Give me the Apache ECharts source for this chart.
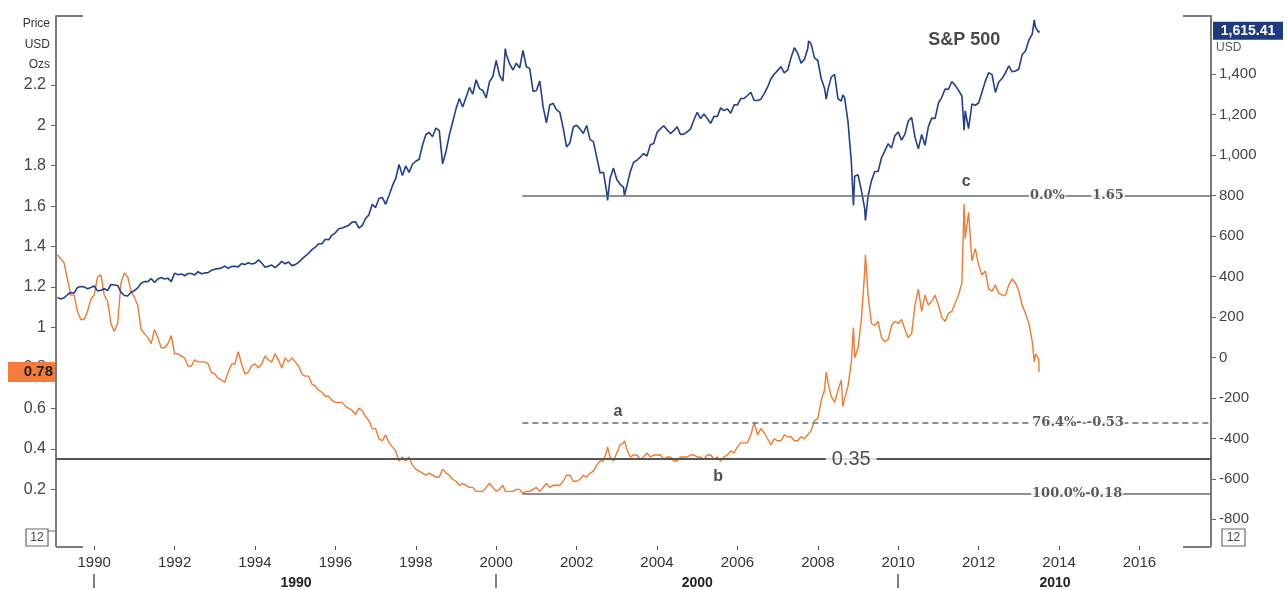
<!DOCTYPE html>
<html>
<head>
<meta charset="utf-8">
<script src="https://cdn.jsdelivr.net/npm/echarts@6/dist/echarts.min.js"></script>
<style>
html,body{margin:0;padding:0;background:#fff;}
#chart{width:1288px;height:590px;}
</style>
</head>
<body>
<div id="chart"></div>
<script>
// ---------------- DATA ----------------
const startYear = 1989; // monthly closes from Jan 1989
const spxMonthly = [
 297,289,295,310,321,318,346,351,349,340,346,353,
 329,332,340,331,361,358,356,323,306,304,322,330,
 344,367,375,375,390,371,388,395,388,392,375,417,
 409,413,404,415,415,408,424,414,418,419,431,436,
 439,443,452,440,450,451,448,464,459,468,462,466,
 482,467,446,451,457,444,458,475,463,472,454,459,
 470,487,501,515,533,545,562,562,584,582,605,616,
 636,640,646,654,669,671,640,652,687,705,757,741,
 786,791,757,801,848,885,954,899,947,915,955,970,
 980,1049,1102,1112,1091,1134,1121,957,1017,1099,1164,1229,
 1280,1238,1286,1335,1302,1373,1329,1320,1283,1363,1389,1469,
 1394,1366,1499,1452,1421,1455,1431,1518,1437,1429,1315,1320,
 1366,1240,1160,1249,1256,1224,1211,1134,1041,1060,1139,1148,
 1130,1107,1147,1077,1067,990,912,916,815,886,936,880,
 856,841,848,917,964,975,990,1008,996,1051,1058,1112,
 1131,1145,1126,1107,1121,1141,1102,1104,1115,1130,1174,1212,
 1181,1204,1181,1157,1192,1191,1234,1220,1229,1207,1249,1248,
 1280,1281,1295,1311,1270,1270,1277,1304,1336,1378,1401,1418,
 1438,1407,1421,1482,1531,1503,1455,1474,1527,1549,1481,1468,
 1379,1331,1323,1386,1400,1280,1267,1283,1166,969,896,903,
 826,735,798,873,919,919,987,1021,1057,1036,1096,1115,
 1074,1104,1169,1187,1089,1031,1102,1049,1141,1183,1181,1258,
 1286,1327,1326,1364,1345,1321,1292,1219,1131,1253,1247,1258,
 1312,1366,1408,1398,1310,1362,1379,1407,1441,1412,1416,1426,
 1498,1515,1569,1598,1631,1606
];
const ratioMonthly = [
 1.36,1.34,1.32,1.24,1.16,1.16,1.08,1.04,1.04,1.08,1.14,1.16,
 1.25,1.26,1.16,1.13,1.02,0.98,1.02,1.22,1.27,1.25,1.18,1.15,
 1.11,0.99,0.97,0.95,0.92,0.99,0.95,0.90,0.90,0.92,0.96,0.87,
 0.87,0.86,0.85,0.81,0.81,0.84,0.83,0.83,0.83,0.82,0.78,0.77,
 0.75,0.74,0.73,0.78,0.82,0.82,0.88,0.82,0.77,0.78,0.81,0.82,
 0.80,0.82,0.86,0.84,0.83,0.87,0.84,0.80,0.85,0.83,0.85,0.83,
 0.81,0.77,0.76,0.76,0.72,0.71,0.69,0.68,0.66,0.66,0.64,0.63,
 0.63,0.63,0.61,0.60,0.59,0.57,0.60,0.59,0.56,0.54,0.50,0.50,
 0.45,0.44,0.47,0.43,0.41,0.39,0.34,0.36,0.34,0.36,0.32,0.30,
 0.29,0.28,0.27,0.28,0.27,0.26,0.26,0.30,0.28,0.27,0.25,0.24,
 0.22,0.23,0.22,0.21,0.21,0.19,0.19,0.19,0.21,0.23,0.21,0.19,
 0.20,0.22,0.19,0.19,0.19,0.20,0.20,0.18,0.19,0.19,0.20,0.21,
 0.19,0.21,0.23,0.21,0.22,0.22,0.22,0.24,0.27,0.27,0.24,0.24,
 0.25,0.27,0.26,0.28,0.29,0.32,0.34,0.34,0.39,0.36,0.34,0.38,
 0.42,0.43,0.40,0.36,0.37,0.37,0.35,0.36,0.38,0.36,0.37,0.37,
 0.37,0.35,0.36,0.36,0.34,0.34,0.36,0.36,0.36,0.37,0.37,0.36,
 0.36,0.35,0.37,0.37,0.35,0.36,0.34,0.36,0.37,0.39,0.38,0.41,
 0.43,0.43,0.43,0.47,0.53,0.47,0.50,0.48,0.45,0.42,0.45,0.44,
 0.44,0.47,0.46,0.46,0.44,0.44,0.46,0.45,0.47,0.49,0.54,0.55,
 0.64,0.69,0.73,0.66,0.63,0.69,0.74,0.65,0.71,0.83,0.85,0.90,
 1.04,1.28,1.16,1.02,1.01,1.03,0.95,0.93,0.94,1.01,1.03,1.02,
 1.04,0.99,0.95,0.97,1.11,1.19,1.08,1.16,1.11,1.13,1.16,1.11,
 1.05,1.03,1.07,1.08,1.12,1.16,1.22,1.44,1.57,1.33,1.39,1.31,
 1.26,1.28,1.19,1.18,1.21,1.17,1.16,1.16,1.21,1.24,1.22,1.18,
 1.11,1.07,1.02,0.93,0.87,0.84
];
// intra-month extremes: [date, S&P 500, ratio]
const extremes = [
 ['2000-03-24',1527,0.19],
 ['2002-10-09',776,0.41],
 ['2003-03-11',800,0.44],
 ['2007-10-09',1565,0.47],
 ['2008-03-17',1277,0.78],
 ['2008-08-15',1298,0.61],
 ['2008-11-20',752,1.00],
 ['2009-03-09',677,1.36],
 ['2011-08-22',1124,1.61],
 ['2013-05-21',1669,0.83],
 ['2013-07-03',1615.41,0.78]
];
const xTickYears = [1990,1992,1994,1996,1998,2000,2002,2004,2006,2008,2010,2012,2014,2016];
const decadeLabels = ['1990','2000','2010'];
const decadeMarks = [1990,2000,2010];
const leftTicks = [0.2,0.4,0.6,0.8,1,1.2,1.4,1.6,1.8,2,2.2];
const rightTicks = [-800,-600,-400,-200,0,200,400,600,800,1000,1200,1400];
const fibLevels = [
 {pct:'0.0%', val:1.65, dashed:false},
 {pct:'76.4%', val:0.53, dashed:true},
 {pct:'100.0%', val:0.18, dashed:false}
];
const keyLevel = 0.35;
const fibStart = 2000.65;
const lastSpx = 1615.41, lastRatio = 0.78;

// ---------------- BUILD ----------------
function toYear(s){
  const d = new Date(s+'T00:00:00Z');
  const y = d.getUTCFullYear();
  const start = Date.UTC(y,0,1), end = Date.UTC(y+1,0,1);
  return y + (d.getTime()-start)/(end-start);
}
const spxPts = [], ratioPts = [];
spxMonthly.forEach((v,i)=>{
  const x = startYear + (i+1)/12;
  spxPts.push([x,v]); ratioPts.push([x,ratioMonthly[i]]);
});
extremes.forEach(e=>{ const x = toYear(e[0]); spxPts.push([x,e[1]]); ratioPts.push([x,e[2]]); });
spxPts.sort((a,b)=>a[0]-b[0]); ratioPts.sort((a,b)=>a[0]-b[0]);

const xMin = 1989.05, xMax = 2017.78;
const lMin = -0.08, lMax = 2.54;
const rMin = -932, rMax = 1688;
const FONT = 'Liberation Sans, Arial, sans-serif';

const fibLines = fibLevels.map(f=>[
  {coord:[fibStart,f.val], lineStyle:{type:f.dashed?[6,4]:'solid', color:'#6a6a6a', width:1.5}},
  {coord:[xMax,f.val]}
]);

const lineLab = {backgroundColor:'#fff', fontWeight:'bold', fontSize:13, color:'#333', fontFamily:'DejaVu Serif, serif', padding:[0,1]};
const annots = [
  {name:'0.0%', value:[2013.71,1.65], label:lineLab},
  {name:'1.65', value:[2015.22,1.65], label:lineLab},
  {name:'76.4%-', value:[2013.95,0.53], label:lineLab},
  {name:'-0.53', value:[2015.15,0.53], label:lineLab},
  {name:'100.0%-0.18', value:[2014.45,0.18], label:lineLab},
  {name:'0.35', value:[2008.83,0.35], label:{backgroundColor:'#fff', fontSize:20, color:'#222', fontFamily:FONT, padding:[0,6]}},
  {name:'a', value:[2003.03,0.585], label:{fontSize:16, fontWeight:'bold', color:'#222', fontFamily:FONT}},
  {name:'b', value:[2005.52,0.262], label:{fontSize:16, fontWeight:'bold', color:'#222', fontFamily:FONT}},
  {name:'c', value:[2011.69,1.723], label:{fontSize:16, fontWeight:'bold', color:'#222', fontFamily:FONT}},
  {name:'S&P 500', value:[2011.64,2.42], label:{fontSize:18, fontWeight:'bold', color:'#1a1a1a', fontFamily:FONT}}
];

const chart = echarts.init(document.getElementById('chart'), null, {renderer:'canvas'});
const option = {
  animation:false,
  backgroundColor:'#fff',
  grid:{left:56, right:77, top:16, bottom:43, containLabel:false},
  xAxis:[
    {type:'value', min:xMin, max:xMax, position:'bottom',
     axisLine:{show:false, onZero:false}, splitLine:{show:false},
     axisTick:{show:true, customValues:xTickYears, length:4, lineStyle:{color:'#555', width:1}},
     axisLabel:{show:true, customValues:xTickYears, formatter:v=>String(Math.round(v)), fontSize:15, color:'#333', fontFamily:FONT, margin:9}},
    {type:'value', min:xMin, max:xMax, position:'bottom', offset:28,
     axisLine:{show:false, onZero:false}, splitLine:{show:false},
     axisTick:{show:true, customValues:decadeMarks, length:14, lineStyle:{color:'#555', width:1.5}},
     axisLabel:{show:true, customValues:[1995.02,2005.0,2013.9],
       formatter:v=> v<2000?decadeLabels[0]:(v<2010?decadeLabels[1]:decadeLabels[2]),
       fontSize:14, fontWeight:'bold', color:'#222', fontFamily:FONT, margin:2}}
  ],
  yAxis:[
    {type:'value', min:lMin, max:lMax, position:'left',
     axisLine:{show:true, onZero:false, lineStyle:{color:'#7a7a7a', width:2}},
     axisTick:{show:true, customValues:leftTicks, length:5, lineStyle:{color:'#666'}},
     axisLabel:{customValues:leftTicks, fontSize:16, color:'#444', fontFamily:FONT, margin:10},
     splitLine:{show:false}},
    {type:'value', min:rMin, max:rMax, position:'right',
     axisLine:{show:true, onZero:false, lineStyle:{color:'#7a7a7a', width:2}},
     axisTick:{show:true, customValues:rightTicks, length:5, lineStyle:{color:'#666'}},
     axisLabel:{customValues:rightTicks, formatter:v=>v.toLocaleString('en-US'), fontSize:15, color:'#444', fontFamily:FONT, margin:8},
     splitLine:{show:false}}
  ],
  series:[
    {name:'Ratio', type:'line', xAxisIndex:0, yAxisIndex:0, data:ratioPts, showSymbol:false, symbol:'none',
     lineStyle:{color:'#ee7b30', width:1.4}, z:3, silent:true,
     markLine:{silent:true, symbol:'none', label:{show:false},
       data:[ {yAxis:keyLevel, lineStyle:{color:'#555', width:2, type:'solid'}} ].concat(fibLines)}},
    {name:'S&P 500', type:'line', xAxisIndex:0, yAxisIndex:1, data:spxPts, showSymbol:false, symbol:'none',
     lineStyle:{color:'#213f8d', width:1.6}, z:4, silent:true},
    {name:'annot', type:'scatter', xAxisIndex:0, yAxisIndex:0, data:annots, symbolSize:1,
     itemStyle:{color:'rgba(0,0,0,0)'}, silent:true, z:10,
     label:{show:true, position:'inside', formatter:'{b}'}}
  ]
};
chart.setOption(option);

// overlay decorations tied to axes
const yL = chart.convertToPixel({yAxisIndex:0}, lastRatio);
const yR = chart.convertToPixel({yAxisIndex:1}, lastSpx);
const gl = {left:56, right:1211, top:16, bottom:547};
const ls = {stroke:'#7a7a7a', lineWidth:2};
chart.setOption({graphic:[
  {type:'line', shape:{x1:gl.left,y1:gl.top,x2:gl.left+27,y2:gl.top}, style:ls},
  {type:'line', shape:{x1:gl.right-28,y1:gl.top,x2:gl.right,y2:gl.top}, style:ls},
  {type:'line', shape:{x1:gl.left,y1:gl.bottom,x2:gl.left+27,y2:gl.bottom}, style:ls},
  {type:'line', shape:{x1:gl.right-28,y1:gl.bottom,x2:gl.right,y2:gl.bottom}, style:ls},
  {type:'text', style:{text:'Price', x:50, y:24, align:'right', verticalAlign:'middle', font:'12px '+FONT, fill:'#333'}},
  {type:'text', style:{text:'USD', x:50, y:45, align:'right', verticalAlign:'middle', font:'12px '+FONT, fill:'#333'}},
  {type:'text', style:{text:'Ozs', x:50, y:65, align:'right', verticalAlign:'middle', font:'12px '+FONT, fill:'#333'}},
  {type:'rect', shape:{x:8, y:yL-10, width:47, height:20}, style:{fill:'#f47c3c'}, z:20},
  {type:'text', style:{text:lastRatio.toFixed(2), x:53, y:yL, align:'right', verticalAlign:'middle', font:'bold 15px '+FONT, fill:'#222'}, z:21},
  {type:'rect', shape:{x:1213, y:yR-9, width:70, height:18}, style:{fill:'#1d3a80'}, z:20},
  {type:'text', style:{text:lastSpx.toLocaleString('en-US',{minimumFractionDigits:2}), x:1248, y:yR, align:'center', verticalAlign:'middle', font:'bold 14px '+FONT, fill:'#fff'}, z:21},
  {type:'text', style:{text:'USD', x:1216, y:yR+17, align:'left', verticalAlign:'middle', font:'12px '+FONT, fill:'#555'}},
  {type:'rect', shape:{x:26, y:529, width:22, height:17}, style:{fill:'#fff', stroke:'#666', lineWidth:1.2}},
  {type:'text', style:{text:'12', x:37, y:538, align:'center', verticalAlign:'middle', font:'12px '+FONT, fill:'#444'}},
  {type:'line', shape:{x1:48,y1:531,x2:56,y2:531}, style:{stroke:'#666', lineWidth:1}},
  {type:'rect', shape:{x:1222, y:529, width:23, height:17}, style:{fill:'#fff', stroke:'#666', lineWidth:1.2}},
  {type:'text', style:{text:'12', x:1233.5, y:538, align:'center', verticalAlign:'middle', font:'12px '+FONT, fill:'#444'}}
]});
</script>
</body>
</html>
